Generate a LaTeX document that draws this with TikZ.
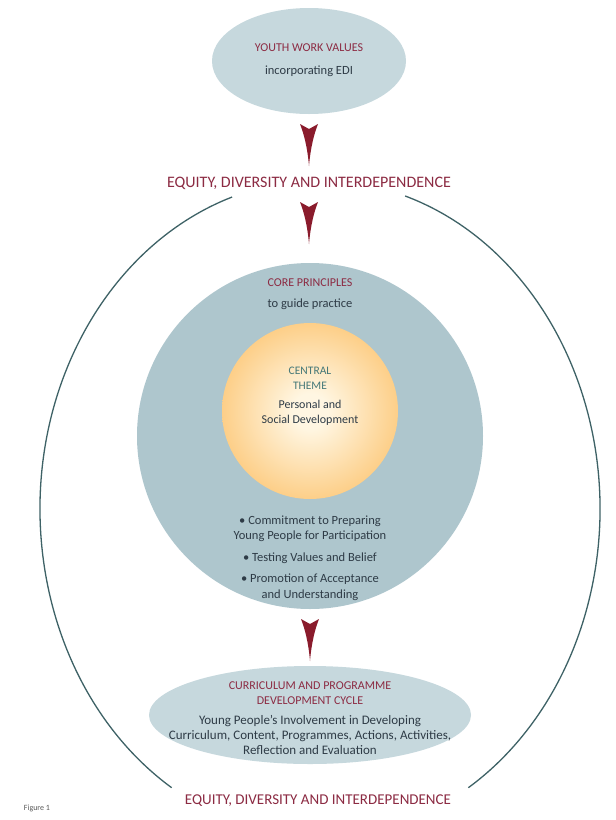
\documentclass[tikz,border=0pt]{standalone}
\usepackage{fontspec}
\setmainfont{Carlito}
\usetikzlibrary{shapes.geometric}
\definecolor{hred}{HTML}{8C2B43}
\definecolor{arrowred}{HTML}{8A1B2C}
\definecolor{ringcol}{HTML}{3E6266}
\definecolor{palefill}{HTML}{C6D8DD}
\definecolor{corefill}{HTML}{AEC6CD}
\definecolor{bodytxt}{HTML}{2E3B46}
\definecolor{themetxt}{HTML}{457878}
\definecolor{orbin}{HTML}{FFF6E2}
\definecolor{orbmid}{HTML}{FCC572}
\definecolor{orbout}{HTML}{F5A12C}
\pgfdeclareradialshading{orb}{\pgfpoint{0bp}{0bp}}{color(0bp)=(orbin); color(5bp)=(orbin); color(30bp)=(orbmid); color(50bp)=(orbout)}
\begin{document}
\begin{tikzpicture}[x=1pt,y=-1pt,
  heading/.style={text=hred, font=\fontsize{12}{14}\selectfont, inner sep=0pt},
  body/.style={text=bodytxt, font=\fontsize{12.5}{15.5}\selectfont, align=center, inner sep=0pt},
  theme/.style={text=themetxt, font=\fontsize{11.5}{15}\selectfont, align=center, inner sep=0pt},
  eqlabel/.style={text=hred, font=\fontsize{16}{17}\selectfont, inner sep=0pt},
  ring/.style={draw=ringcol, line width=1.3pt},
  redarrow/.style={fill=arrowred, draw=none},
  paleoval/.style={ellipse, fill=palefill, draw=none, inner sep=0pt},
]
\fill[white] (0,0) rectangle (616,820);
\useasboundingbox (0,0) rectangle (616,820);

% top ellipse
\node[paleoval, minimum width=194pt, minimum height=106pt] (values) at (309,61) {};
\node[heading] (valuesT) at (309,48) {YOUTH WORK VALUES};
\node[body] (valuesS) at (309,71) {incorporating EDI};

% outer ring
\coordinate (rc) at (320,509);
\draw[ring] ([shift={(122:280 and 328.6)}]rc) arc[start angle=122, end angle=251.7, x radius=280, y radius=328.6];
\draw[ring] ([shift={(-72.3:280 and 328.6)}]rc) arc[start angle=-72.3, end angle=58, x radius=280, y radius=328.6];

% labels
\node[eqlabel] (eqtop) at (309,183) {EQUITY, DIVERSITY AND INTERDEPENDENCE};
\node[eqlabel, font=\fontsize{15}{17}\selectfont] (eqbot) at (318,801) {EQUITY, DIVERSITY AND INTERDEPENDENCE};

% core circle
\node[circle, fill=corefill, minimum size=346pt, inner sep=0pt] (core) at (310,436) {};
\node[heading] (coreT) at (310,283) {CORE PRINCIPLES};
\node[body] (coreS) at (310,304) {to guide practice};

% central theme
\node[circle, shading=orb, minimum size=176pt, inner sep=0pt] (orbn) at (310,411) {};
\node[theme] (themeT) at (310,378) {CENTRAL\\THEME};
\node[body, font=\fontsize{12}{15}\selectfont] (themeS) at (310,413) {Personal and\\Social Development};

% bullets
\node[body] (b1) at (310,529) {\textbullet\ Commitment to Preparing\\Young People for Participation};
\node[body] (b2) at (310,558) {\textbullet\ Testing Values and Belief};
\node[body] (b3) at (310,587) {\textbullet\ Promotion of Acceptance\\and Understanding};

% bottom ellipse
\node[paleoval, minimum width=322pt, minimum height=98pt] (curr) at (310,715) {};
\node[heading, align=center, font=\fontsize{12}{14.5}\selectfont] (currT) at (310,693) {CURRICULUM AND PROGRAMME\\DEVELOPMENT CYCLE};
\node[body, font=\fontsize{13}{15}\selectfont] (currS) at (310,735) {Young People's Involvement in Developing\\Curriculum, Content, Programmes, Actions, Activities,\\Reflection and Evaluation};

% figure caption
\node[text=black!65, font=\fontsize{8}{9}\selectfont, inner sep=0pt] (fig) at (37,808) {Figure 1};

% arrows
\coordinate (a1) at (309,124);
\coordinate (a2) at (309,202);
\coordinate (a3) at (310,619);
\foreach \c in {a1,a2,a3}{
  \begin{scope}[shift={(\c)}]
    \fill[redarrow] (-9,0) -- (0,5) -- (9,0) .. controls (5,10) and (1.5,24) .. (0,42) .. controls (-1.5,24) and (-5,10) .. (-9,0) -- cycle;
  \end{scope}
}
\end{tikzpicture}
\end{document}
